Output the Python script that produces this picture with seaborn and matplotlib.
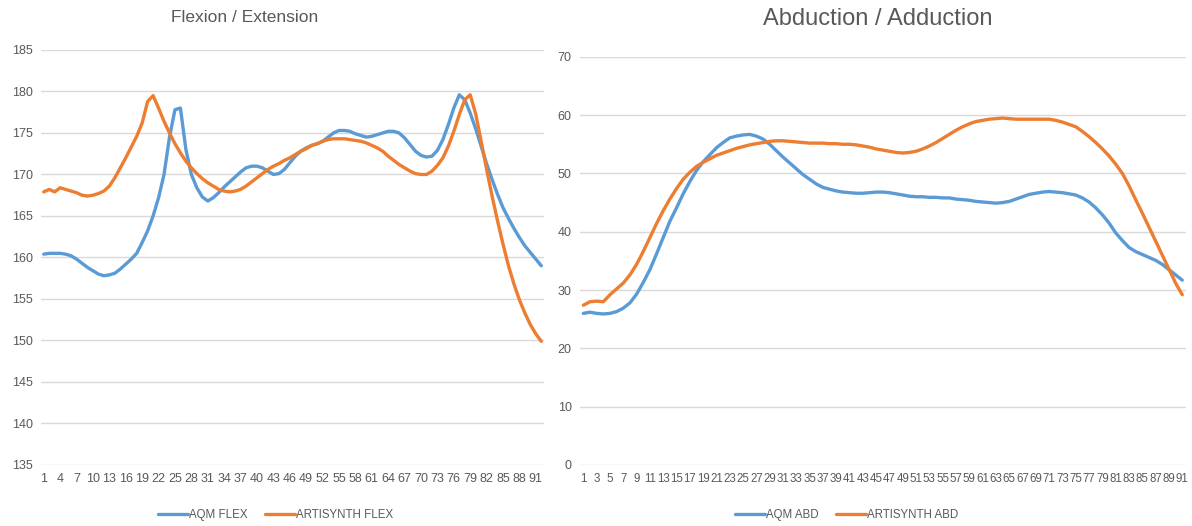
"""
plot.py - Flexion/Extension and Abduction/Adduction comparison, AQM vs ArtiSynth.
"""

import matplotlib
matplotlib.use("Agg")
import matplotlib.pyplot as plt
import pandas as pd
import seaborn as sns

# Flexion / Extension (92 frames)
aqm_flex = [
    160.4, 160.5, 160.5, 160.5, 160.4, 160.2, 159.8, 159.3, 158.8, 158.4,
    158.0, 157.8, 157.9, 158.1, 158.6, 159.2, 159.8, 160.5, 161.8, 163.2,
    165.0, 167.2, 170.0, 174.5, 177.8, 178.0, 173.0, 170.0, 168.4, 167.3,
    166.8, 167.2, 167.8, 168.5, 169.1, 169.7, 170.3, 170.8, 171.0, 171.0,
    170.8, 170.4, 170.0, 170.1, 170.6, 171.4, 172.2, 172.8, 173.2, 173.5,
    173.7, 174.0, 174.5, 175.0, 175.3, 175.3, 175.2, 174.9, 174.7, 174.5,
    174.6, 174.8, 175.0, 175.2, 175.2, 175.0, 174.4, 173.6, 172.8, 172.3,
    172.1, 172.2, 172.9, 174.2, 176.0, 178.0, 179.6, 179.0, 177.4, 175.5,
    173.4, 171.3, 169.4, 167.6, 166.0, 164.7, 163.5, 162.4, 161.4, 160.6,
    159.8, 159.0,
]
artisynth_flex = [
    167.9, 168.2, 167.9, 168.4, 168.2, 168.0, 167.8, 167.5, 167.4, 167.5,
    167.7, 168.0, 168.6, 169.6, 170.8, 172.0, 173.3, 174.6, 176.2, 178.8,
    179.5, 178.0, 176.4, 175.0, 173.7, 172.6, 171.6, 170.8, 170.1, 169.5,
    169.0, 168.6, 168.2, 168.0, 167.9, 168.0, 168.2, 168.6, 169.1, 169.6,
    170.1, 170.6, 171.0, 171.3, 171.7, 172.0, 172.4, 172.8, 173.1, 173.5,
    173.7, 174.0, 174.2, 174.3, 174.3, 174.3, 174.2, 174.1, 174.0, 173.8,
    173.5, 173.2, 172.8, 172.2, 171.7, 171.2, 170.8, 170.4, 170.1, 170.0,
    170.0, 170.4, 171.1, 172.0, 173.4, 175.2, 177.2, 179.0, 179.6, 177.3,
    174.0, 170.6, 167.4, 164.4, 161.6, 159.0, 156.8, 154.9, 153.3, 151.9,
    150.8, 149.9,
]

# Abduction / Adduction (91 frames)
aqm_abd = [
    26.0, 26.2, 26.0, 25.9, 26.0, 26.3, 26.9, 27.8, 29.3, 31.3,
    33.5, 36.2, 39.0, 41.8, 44.1, 46.5, 48.6, 50.5, 52.0, 53.2,
    54.4, 55.3, 56.1, 56.4, 56.6, 56.7, 56.4, 55.9, 55.0, 53.9,
    52.8, 51.8, 50.8, 49.8, 49.0, 48.2, 47.6, 47.3, 47.0, 46.8,
    46.7, 46.6, 46.6, 46.7, 46.8, 46.8, 46.7, 46.5, 46.3, 46.1,
    46.0, 46.0, 45.9, 45.9, 45.8, 45.8, 45.6, 45.5, 45.4, 45.2,
    45.1, 45.0, 44.9, 45.0, 45.2, 45.6, 46.0, 46.4, 46.6, 46.8,
    46.9, 46.8, 46.7, 46.5, 46.3, 45.8, 45.1, 44.1, 42.9, 41.5,
    39.8, 38.5, 37.3, 36.6, 36.1, 35.6, 35.1, 34.4, 33.5, 32.6,
    31.7,
]
artisynth_abd = [
    27.4, 28.0, 28.1, 28.0, 29.2, 30.2, 31.2, 32.6, 34.4, 36.6,
    39.0, 41.4, 43.6, 45.6, 47.4, 49.0, 50.2, 51.2, 51.9, 52.5,
    53.1, 53.5, 53.9, 54.3, 54.6, 54.9, 55.1, 55.3, 55.5, 55.6,
    55.6, 55.5, 55.4, 55.3, 55.2, 55.2, 55.2, 55.1, 55.1, 55.0,
    55.0, 54.9, 54.7, 54.5, 54.2, 54.0, 53.8, 53.6, 53.5, 53.6,
    53.8, 54.2, 54.7, 55.3, 56.0, 56.7, 57.4, 58.0, 58.5, 58.9,
    59.1, 59.3, 59.4, 59.5, 59.4, 59.3, 59.3, 59.3, 59.3, 59.3,
    59.3, 59.1, 58.8, 58.4, 58.0, 57.2, 56.3, 55.3, 54.2, 53.0,
    51.6, 50.0, 47.9, 45.5, 43.2, 40.8, 38.4, 36.0, 33.6, 31.2,
    29.2,
]

BLUE = "#5B9BD5"
ORANGE = "#ED7D31"
GRAY = "#595959"
GRID = "#D9D9D9"


def long_frame(series):
    rows = []
    for name, values in series.items():
        for i, v in enumerate(values):
            rows.append({"frame": i + 1, "value": v, "series": name})
    return pd.DataFrame(rows)


def style_axis(ax, ylim, yticks, xticks, n, xsize):
    ax.set_xlim(0.5, n + 0.5)
    ax.set_ylim(*ylim)
    ax.set_yticks(yticks)
    ax.set_xticks(xticks)
    ax.set_xticklabels([str(t) for t in xticks])
    ax.grid(axis="y", color=GRID, linewidth=1)
    ax.grid(axis="x", visible=False)
    for s in ax.spines.values():
        s.set_visible(False)
    ax.tick_params(length=0, colors=GRAY, labelsize=9, pad=6)
    ax.tick_params(axis="x", labelsize=xsize)
    ax.set_xlabel("")
    ax.set_ylabel("")


sns.set_style("white")
plt.rcParams["font.family"] = ["Liberation Sans", "DejaVu Sans"]

fig = plt.figure(figsize=(11.92, 5.26), dpi=100)
ax1 = fig.add_axes([0.0344, 0.116, 0.422, 0.789])
ax2 = fig.add_axes([0.4866, 0.116, 0.508, 0.776])

df1 = long_frame({"AQM FLEX": aqm_flex, "ARTISYNTH FLEX": artisynth_flex})
df2 = long_frame({"AQM ABD": aqm_abd, "ARTISYNTH ABD": artisynth_abd})

sns.lineplot(data=df1, x="frame", y="value", hue="series",
             palette=[BLUE, ORANGE], linewidth=2.4, ax=ax1)
sns.lineplot(data=df2, x="frame", y="value", hue="series",
             palette=[BLUE, ORANGE], linewidth=2.4, ax=ax2)

style_axis(ax1, (135, 185), range(135, 186, 5), list(range(1, 93, 3)), len(aqm_flex), 9)
style_axis(ax2, (0, 70), range(0, 71, 10), list(range(1, 92, 2)), len(aqm_abd), 8.3)

# titles sit slightly left of the plot centres, as in the source
fig.text(245 / 1192, 1 - 18 / 526, "Flexion / Extension", color=GRAY,
         fontsize=12.5, ha="center", va="center")
fig.text(878 / 1192, 1 - 19 / 526, "Abduction / Adduction", color=GRAY,
         fontsize=17, ha="center", va="center")

for ax, cx in [(ax1, 0.231), (ax2, 0.71)]:
    handles, labels = ax.get_legend_handles_labels()
    ax.get_legend().remove()
    fig.legend(handles, labels, loc="center", bbox_to_anchor=(cx, 0.02),
               ncol=2, frameon=False, fontsize=8.3, handlelength=2.6,
               handletextpad=0.1, columnspacing=1.5, labelcolor=GRAY)

plt.savefig("out.png", dpi=100)
plt.close()
